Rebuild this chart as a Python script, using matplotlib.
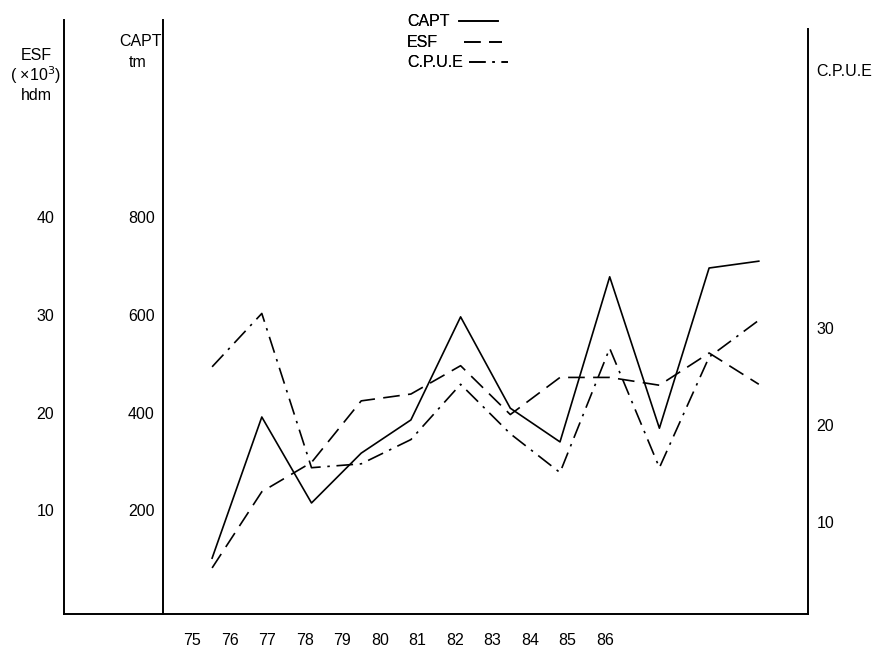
import matplotlib
matplotlib.use("Agg")
import matplotlib.pyplot as plt
from matplotlib.lines import Line2D

plt.rcParams['font.family'] = ['Liberation Sans', 'DejaVu Sans']

years = [75, 76, 77, 78, 79, 80, 81, 82, 83, 84, 85, 86]
year_labels = ['75', '76', '77', '78', '79', '80', '81', '82', '83', '84', '85', '86']
capt = [102, 391, 215, 317, 385, 596, 409, 340, 678, 368, 696, 710]
esf = [4.1, 11.9, 14.9, 21.2, 21.9, 24.8, 19.8, 23.6, 23.6, 22.8, 26.1, 22.9]
cpue = [26.0, 31.5, 15.6, 16.0, 18.5, 24.2, 19.1, 15.1, 27.9, 15.6, 27.0, 30.8]

capt_ticks = [200, 400, 600, 800]
esf_ticks = [10, 20, 30, 40]
cpue_ticks = [10, 20, 30]

FS = 11.5
W, H = 872, 658
fig = plt.figure(figsize=(W / 100, H / 100), dpi=100)
rect = [64 / W, 44 / H, 744 / W, 594 / H]

solid = dict(color='black', lw=1.2)
dashed = dict(color='black', lw=1.2, dashes=(10, 5))
dashdot = dict(color='black', lw=1.2, dashes=(10, 4, 1.5, 4))

# capt axis, its spine sits between the esf axis and the plot
ax = fig.add_axes(rect)
ax.plot(years, capt, **solid)
ax.set_xlim(72.02, 86.99)
ax.set_ylim(-12.3, 1203.7)
ax.set_xticks([])
ax.set_yticks(capt_ticks)
ax.spines['left'].set_position(('axes', 0.133))
ax.spines['top'].set_visible(False)
ax.spines['right'].set_visible(False)
ax.spines['bottom'].set_visible(False)
ax.tick_params(axis='y', length=0, pad=6, labelsize=FS)

# esf axis on the far left, same scale / 20
ax2 = fig.add_axes(rect, sharex=ax)
ax2.patch.set_visible(False)
ax2.plot(years, esf, **dashed)
ax2.set_ylim(-12.3 / 20, 1203.7 / 20)
ax2.set_yticks(esf_ticks)
for s in ['top', 'right']:
    ax2.spines[s].set_visible(False)
ax2.tick_params(axis='y', length=0, pad=7, labelsize=FS)
ax2.tick_params(axis='x', length=0)

# cpue axis on the right
ax3 = fig.add_axes(rect, sharex=ax)
ax3.patch.set_visible(False)
ax3.plot(years, cpue, **dashdot)
ax3.set_ylim(0.52, 61.75)
ax3.yaxis.tick_right()
ax3.set_yticks(cpue_ticks)
for s in ['top', 'left', 'bottom']:
    ax3.spines[s].set_visible(False)
ax3.spines['right'].set_bounds(0.52, 60.8)
ax3.tick_params(axis='y', length=0, pad=6, labelsize=FS)

# year labels were printed on a narrower spacing than the data
axl = fig.add_axes(rect)
axl.patch.set_visible(False)
axl.set_xlim(71.59, 91.41)
axl.set_xticks(years)
axl.set_xticklabels(year_labels)
axl.set_yticks([])
for s in axl.spines.values():
    s.set_visible(False)
axl.tick_params(axis='x', length=0, pad=14, labelsize=FS)

for a in [ax, ax2, ax3]:
    for s in a.spines.values():
        s.set_linewidth(1.4)

fig.text(36 / W, 1 - 48 / H, 'ESF\n( ×10$^3$)\nhdm', ha='center', va='top',
         fontsize=FS, linespacing=1.1)
fig.text(162 / W, 1 - 34 / H, 'CAPT', ha='right', va='top', fontsize=FS)
fig.text(138 / W, 1 - 55 / H, 'tm', ha='center', va='top', fontsize=FS)
fig.text(816 / W, 1 - 64 / H, 'C.P.U.E', ha='left', va='top', fontsize=FS)

# legend: one entry per row, text first, line right after it
entries = [('CAPT', solid, 3, 0.6), ('ESF', dashed, 24, 1.6), ('C.P.U.E', dashdot, 44, 0.4)]
for label, style, top, gap in entries:
    leg = fig.legend([Line2D([], [], **style)], [label], loc='upper left',
                     bbox_to_anchor=(396 / W, 1 - top / H), frameon=False,
                     markerfirst=False, fontsize=FS, handlelength=2.4,
                     handletextpad=gap, borderpad=0.2)
    fig.add_artist(leg)

fig.savefig('out.png', dpi=100)
